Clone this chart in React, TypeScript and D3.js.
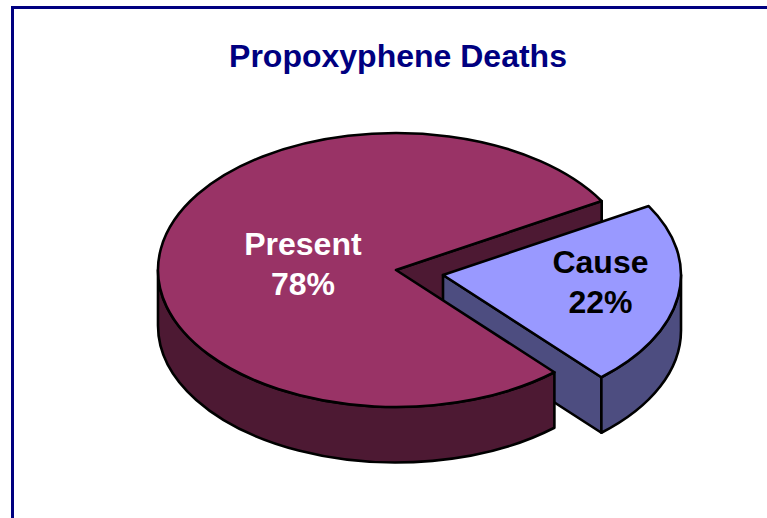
import * as d3 from 'd3';
import React from 'react';

const categories = ['Cause', 'Present'];
const values = [21.8, 78.2];
const title = 'Propoxyphene Deaths';

const width = 767;
const height = 518;
const rx = 238;
const ry = 137;
const depth = 55.5;
const cx = 396;
const cy = 270;
const font = '"Liberation Sans", Arial, sans-serif';

// slices in pie order, cause slice starts about 60deg clockwise from 12 o'clock
const start = (59.8 * Math.PI) / 180;
const slices = d3
  .pie<number>()
  .sort(null)
  .startAngle(start)
  .endAngle(start + 2 * Math.PI)(values);

const x = d3.scaleLinear().domain([-1, 1]).range([-rx, rx]);
const y = d3.scaleLinear().domain([-1, 1]).range([-ry, ry]);

type Pt = [number, number];

const project = (a: number, ox: number, oy: number): Pt => [
  ox + x(Math.sin(a)),
  oy + y(-Math.cos(a)),
];

const arcTo = (p: Pt, a0: number, a1: number, sweep: number) =>
  `A${rx},${ry} 0 ${Math.abs(a1 - a0) > Math.PI ? 1 : 0} ${sweep} ${p[0]},${p[1]}`;

// flat top face
const topPath = (a0: number, a1: number, ox: number, oy: number) => {
  const p0 = project(a0, ox, oy);
  const p1 = project(a1, ox, oy);
  return `M${ox},${oy} L${p0[0]},${p0[1]} ${arcTo(p1, a0, a1, 1)} Z`;
};

// curved outer wall between two angles
const rimPath = (a0: number, a1: number, ox: number, oy: number) => {
  const p0 = project(a0, ox, oy);
  const p1 = project(a1, ox, oy);
  const p2 = project(a1, ox, oy + depth);
  const p3 = project(a0, ox, oy + depth);
  return `M${p0[0]},${p0[1]} ${arcTo(p1, a0, a1, 1)} L${p2[0]},${p2[1]} ${arcTo(p3, a0, a1, 0)} Z`;
};

// straight cut wall from the centre to the rim
const cutPath = (a: number, ox: number, oy: number) => {
  const p = project(a, ox, oy);
  return `M${ox},${oy} L${p[0]},${p[1]} L${p[0]},${p[1] + depth} L${ox},${oy + depth} Z`;
};

const [cause, present] = slices;
const causeOx = cx + 47;
const causeOy = cy + 5;

const labelAt = (a: number, f: number, ox: number, oy: number): Pt => [
  ox + x(Math.sin(a) * f),
  oy + y(-Math.cos(a) * f),
];

const causeLabel = labelAt((cause.startAngle + cause.endAngle) / 2, 0.67, causeOx, causeOy - 10);
const presentLabel = labelAt((present.startAngle + present.endAngle) / 2, 0.396, cx, cy);

const edge = { stroke: '#000', strokeWidth: 2.6, strokeLinejoin: 'round' as const };

const Label = ({ pos, name, value, fill }: { pos: Pt; name: string; value: number; fill: string }) => (
  <text
    textAnchor="middle"
    fontFamily={font}
    fontWeight="bold"
    fontSize={32}
    fill={fill}
  >
    <tspan x={pos[0]} y={pos[1] - 6}>{name}</tspan>
    <tspan x={pos[0]} y={pos[1] + 34}>{Math.round(value)}%</tspan>
  </text>
);

export default function App() {
  return (
    <svg
      width={width}
      height={height}
      viewBox={`0 0 ${width} ${height}`}
      style={{ position: 'absolute', left: 0, top: 0, background: '#fff' }}
    >
      <rect x={12.5} y={7.5} width={width + 40} height={height + 40} fill="#fff" stroke="#000080" strokeWidth={3} />
      <text
        x={398}
        y={67}
        textAnchor="middle"
        fontFamily={font}
        fontWeight="bold"
        fontSize={32}
        fill="#000080"
      >
        {title}
      </text>

      <path d={cutPath(present.endAngle, cx, cy)} fill="#4d1933" {...edge} />

      <path d={cutPath(cause.endAngle, causeOx, causeOy)} fill="#4d4d80" {...edge} />
      <path d={rimPath(Math.PI / 2, cause.endAngle, causeOx, causeOy)} fill="#4d4d80" {...edge} />
      <path d={topPath(cause.startAngle, cause.endAngle, causeOx, causeOy)} fill="#9999ff" {...edge} />

      <path d={rimPath(present.startAngle, (3 * Math.PI) / 2, cx, cy)} fill="#4d1933" {...edge} />
      <path d={topPath(present.startAngle, present.endAngle, cx, cy)} fill="#993366" {...edge} />

      <Label pos={presentLabel} name={categories[1]} value={values[1]} fill="#fff" />
      <Label pos={causeLabel} name={categories[0]} value={values[0]} fill="#000" />
    </svg>
  );
}
